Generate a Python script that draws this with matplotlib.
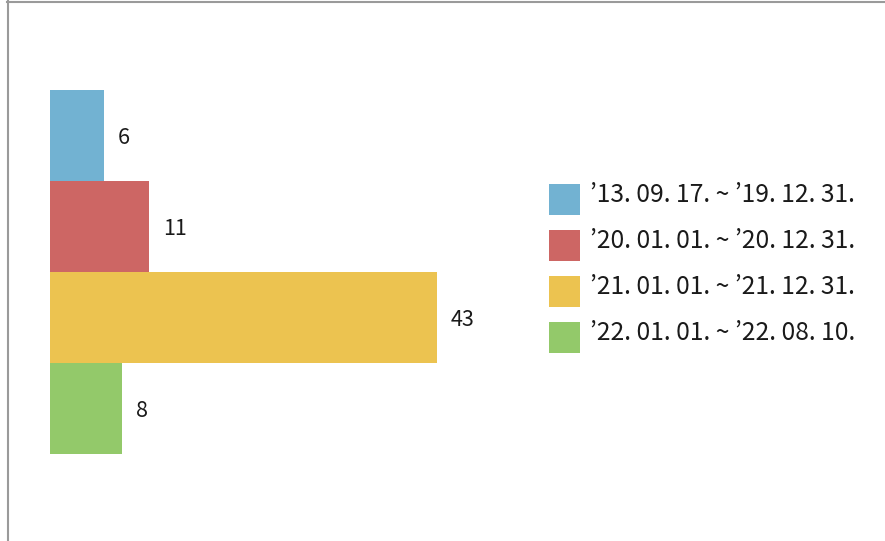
import matplotlib
matplotlib.use("Agg")
import matplotlib.pyplot as plt
from matplotlib.patches import Rectangle
from matplotlib.lines import Line2D

plt.rcParams['font.family'] = ['Noto Sans CJK KR', 'DejaVu Sans']

periods = ["\u201913. 09. 17. ~ \u201919. 12. 31.",
           "\u201920. 01. 01. ~ \u201920. 12. 31.",
           "\u201921. 01. 01. ~ \u201921. 12. 31.",
           "\u201922. 01. 01. ~ \u201922. 08. 10."]
counts = [6, 11, 43, 8]
colors = ["#72B2D2", "#CD6664", "#ECC350", "#93C96A"]

W, H = 885, 541
fig = plt.figure(figsize=(W / 100, H / 100), dpi=100)

# axes: x from 50px with 9px per unit; bars from y=90 to y=454
ax_left, ax_top, ax_bottom = 50, 90, 454
xmax = 50
ax = fig.add_axes([ax_left / W, 1 - ax_bottom / H, xmax * 9 / W, (ax_bottom - ax_top) / H])
ypos = list(range(len(counts)))
ax.barh(ypos, counts, height=1.0, color=colors)
ax.set_xlim(0, xmax)
ax.set_ylim(len(counts) - 0.5, -0.5)
ax.axis('off')

for y, v in zip(ypos, counts):
    ax.annotate(str(v), xy=(v, y), xytext=(10, -1.5), textcoords='offset points',
                ha='left', va='center', fontsize=15.5, color='#1a1a1a', fontweight='light')

# legend (drawn in figure pixel space)
sq = 31
pitch = 46
for i, (lab, c) in enumerate(zip(periods, colors)):
    top = 184 + i * pitch
    fig.add_artist(Rectangle((549 / W, 1 - (top + sq) / H), sq / W, sq / H,
                             facecolor=c, edgecolor='none', transform=fig.transFigure))
    fig.text(590 / W, 1 - (top + 18) / H, lab, ha='left', va='baseline',
             fontsize=17.8, color='#1a1a1a', fontweight='light')

# outer frame lines (top and left)
fig.add_artist(Line2D([7 / W, 1], [1 - 1.5 / H, 1 - 1.5 / H], color='#9a9a9a', lw=1.5))
fig.add_artist(Line2D([7.5 / W, 7.5 / W], [0, 1 - 1 / H], color='#9a9a9a', lw=1.5))

fig.savefig("out.png", dpi=100)
